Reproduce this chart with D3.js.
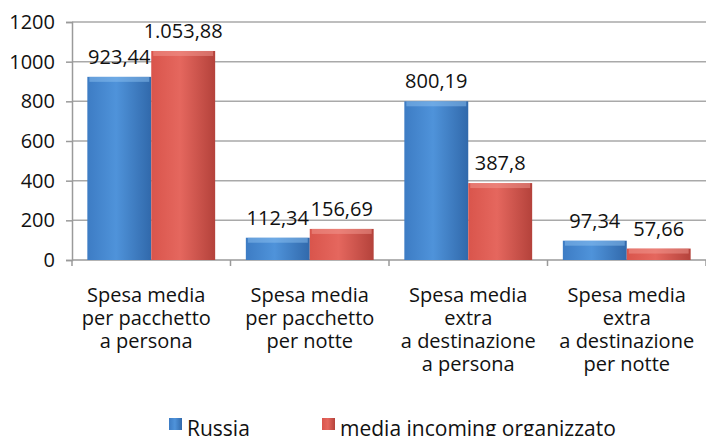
<!DOCTYPE html>
<html>
<head>
<meta charset="utf-8">
<script src="https://cdn.jsdelivr.net/npm/d3@7"></script>
<style>
  body { margin: 0; background: #fff; }
  svg text { font-family: "Open Sans", "Noto Sans", sans-serif; fill: #111; }
</style>
</head>
<body>
<div id="chart"></div>
<script>
var categories = [
    ["Spesa media", "per pacchetto", "a persona"],
    ["Spesa media", "per pacchetto", "per notte"],
    ["Spesa media", "extra", "a destinazione", "a persona"],
    ["Spesa media", "extra", "a destinazione", "per notte"]
];
var seriesNames = ["Russia", "media incoming organizzato"];
var russia = [923.44, 112.34, 800.19, 97.34];
var media = [1053.88, 156.69, 387.8, 57.66];
var russiaLabels = ["923,44", "112,34", "800,19", "97,34"];
var mediaLabels = ["1.053,88", "156,69", "387,8", "57,66"];
var yTicks = [0, 200, 400, 600, 800, 1000, 1200];

function init() {
    var w = 706;
    var h = 436;
    var left = 72, right = 706, top = 22, bottom = 260;

    var svg = d3.select("#chart").append("svg")
                .attr("width", w)
                .attr("height", h);

    var defs = svg.append("defs");
    var grads = [
        { id: "gBlue", stops: ["#3d7cc4", "#4f93da", "#3169ab"] },
        { id: "gRed", stops: ["#d9554c", "#e5675e", "#b4423b"] }
    ];
    grads.forEach(function(g) {
        var lg = defs.append("linearGradient").attr("id", g.id)
                     .attr("x1", "0").attr("x2", "1").attr("y1", "0").attr("y2", "0");
        lg.append("stop").attr("offset", "0").attr("stop-color", g.stops[0]);
        lg.append("stop").attr("offset", "0.45").attr("stop-color", g.stops[1]);
        lg.append("stop").attr("offset", "1").attr("stop-color", g.stops[2]);
    });

    var idx = d3.range(categories.length);

    var x0 = d3.scaleBand()
               .domain(idx)
               .range([left, right])
               .padding(0);

    var x1 = d3.scaleBand()
               .domain([0, 1])
               .range([0, x0.bandwidth()])
               .paddingInner(0)
               .paddingOuter(0.24);

    var y = d3.scaleLinear()
              .domain([0, 1200])
              .range([bottom, top]);

    // gridlines
    svg.append("g").selectAll("line")
       .data(yTicks.filter(function(t) { return t > 0; }))
       .enter().append("line")
       .attr("x1", left).attr("x2", right)
       .attr("y1", function(d) { return y(d); })
       .attr("y2", function(d) { return y(d); })
       .attr("stroke", "#a9a9a9")
       .attr("stroke-width", 1.5);

    // y axis
    var yAxis = d3.axisLeft(y).tickValues(yTicks).tickFormat(d3.format("d"))
                  .tickSize(6).tickPadding(11);
    var gy = svg.append("g").attr("transform", "translate(" + left + ",0)").call(yAxis);
    gy.select(".domain").attr("stroke", "#9a9a9a").attr("stroke-width", 1.5);
    gy.selectAll(".tick line").attr("stroke", "#9a9a9a").attr("stroke-width", 1.5);
    gy.selectAll(".tick text")
      .style("font-family", "'Open Sans', sans-serif")
      .style("font-size", "20px")
      .attr("fill", "#111");

    // x axis baseline + ticks at category boundaries
    svg.append("line")
       .attr("x1", left).attr("x2", right)
       .attr("y1", y(0)).attr("y2", y(0))
       .attr("stroke", "#9a9a9a").attr("stroke-width", 1.5);
    svg.append("g").selectAll("line")
       .data(d3.range(categories.length + 1))
       .enter().append("line")
       .attr("x1", function(i) { return left + i * x0.step(); })
       .attr("x2", function(i) { return left + i * x0.step(); })
       .attr("y1", y(0)).attr("y2", y(0) + 6)
       .attr("stroke", "#9a9a9a").attr("stroke-width", 1.5);

    var series = [
        { vals: russia, labels: russiaLabels, fill: "url(#gBlue)", hi: "#8cc0f0" },
        { vals: media, labels: mediaLabels, fill: "url(#gRed)", hi: "#f29a92" }
    ];

    series.forEach(function(s, si) {
        var g = svg.append("g");
        g.selectAll("rect.bar")
         .data(idx)
         .enter().append("rect")
         .attr("class", "bar")
         .attr("x", function(i) { return x0(i) + x1(si); })
         .attr("y", function(i) { return y(s.vals[i]); })
         .attr("width", x1.bandwidth())
         .attr("height", function(i) { return y(0) - y(s.vals[i]); })
         .attr("fill", s.fill);

        // top bevel highlight
        g.selectAll("rect.hi")
         .data(idx)
         .enter().append("rect")
         .attr("class", "hi")
         .attr("x", function(i) { return x0(i) + x1(si) + 2; })
         .attr("y", function(i) { return y(s.vals[i]); })
         .attr("width", x1.bandwidth() - 4)
         .attr("height", 5)
         .attr("fill", s.hi)
         .attr("opacity", 0.5);

        g.selectAll("text")
         .data(idx)
         .enter().append("text")
         .attr("x", function(i) { return x0(i) + x1(si) + x1.bandwidth() / 2; })
         .attr("y", function(i) { return y(s.vals[i]) - 13; })
         .attr("text-anchor", "middle")
         .style("font-size", "20px")
         .text(function(i) { return s.labels[i]; });
    });

    // category labels
    var cat = svg.append("g").selectAll("text")
                 .data(idx)
                 .enter().append("text")
                 .attr("text-anchor", "middle")
                 .style("font-size", "20px");
    cat.each(function(i) {
        var t = d3.select(this);
        categories[i].forEach(function(line, li) {
            t.append("tspan")
             .attr("x", x0(i) + x0.bandwidth() / 2 - (i === 0 ? 5 : 0))
             .attr("y", 302 + li * 23)
             .text(line);
        });
    });

    // legend
    var legend = [
        { name: seriesNames[0], x: 169, fill: "url(#gBlue)" },
        { name: seriesNames[1], x: 322, fill: "url(#gRed)" }
    ];
    var lg = svg.append("g").selectAll("g")
                .data(legend)
                .enter().append("g");
    lg.append("rect")
      .attr("x", function(d) { return d.x; })
      .attr("y", 418)
      .attr("width", 13).attr("height", 12)
      .attr("fill", function(d) { return d.fill; });
    lg.append("text")
      .attr("x", function(d) { return d.x + 18; })
      .attr("y", 436)
      .style("font-size", "21px")
      .text(function(d) { return d.name; });
}

window.onload = init;
</script>
</body>
</html>
